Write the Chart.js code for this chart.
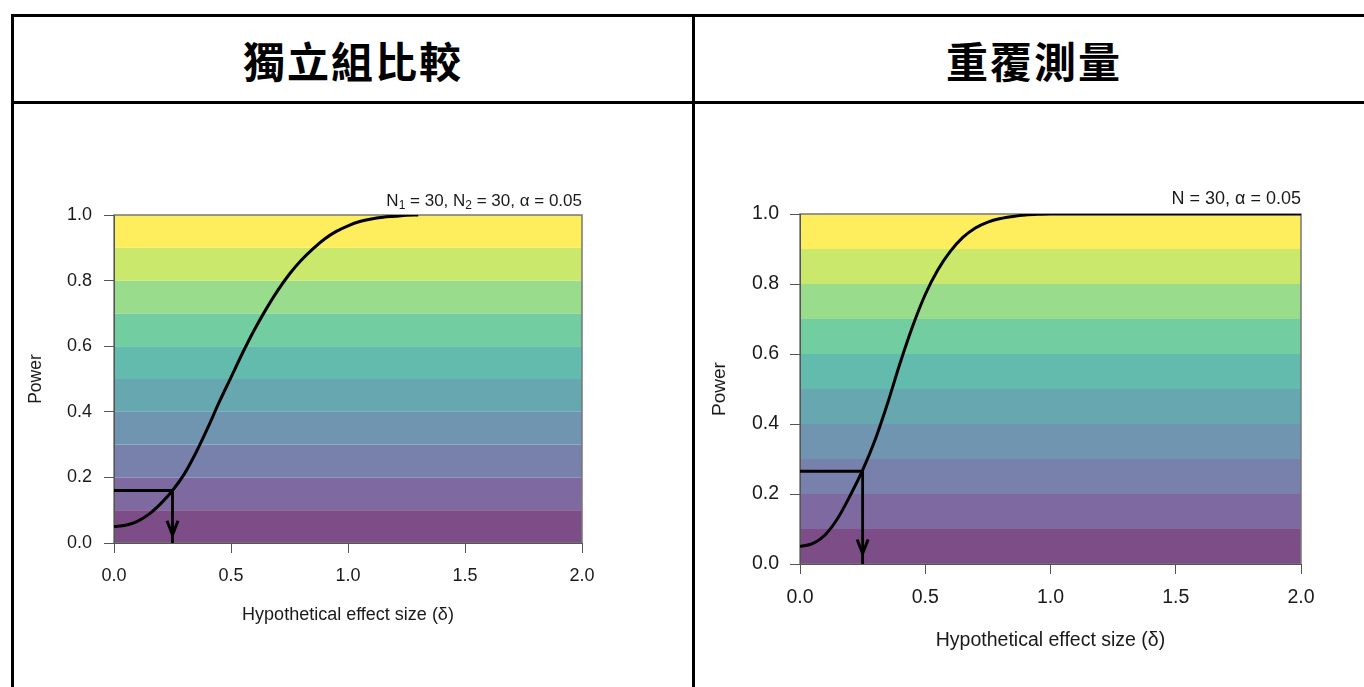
<!DOCTYPE html>
<html>
<head>
<meta charset="utf-8">
<script src="https://cdn.jsdelivr.net/npm/chart.js@4.4.1/dist/chart.umd.min.js"></script>
<style>
body{margin:0;width:1364px;height:687px;overflow:hidden;background:#fff;position:relative;}
.line{position:absolute;background:#000;}
.head{position:absolute;top:17px;height:84px;width:678px;display:flex;align-items:center;justify-content:center;
  font-family:"Noto Sans CJK TC",sans-serif;font-weight:bold;font-size:42px;letter-spacing:2px;color:#000;}
canvas{position:absolute;top:104px;}
</style>
</head>
<body>
<!-- table rules -->
<div class="line" style="left:11px;top:14px;width:1360px;height:3px"></div>
<div class="line" style="left:11px;top:101px;width:1360px;height:3px"></div>
<div class="line" style="left:11px;top:14px;width:3px;height:700px"></div>
<div class="line" style="left:692px;top:14px;width:3px;height:700px"></div>
<div class="head" style="left:14px">獨立組比較</div>
<div class="head" style="left:695px">重覆測量</div>

<canvas id="indep" width="678" height="583" style="left:14px"></canvas>
<canvas id="paired" width="669" height="583" style="left:695px"></canvas>

<script>
// effect sizes and power
var delta1 = [0, 0.05, 0.1, 0.15, 0.2, 0.25, 0.3, 0.35, 0.4, 0.45, 0.5, 0.55, 0.6, 0.65,
              0.7, 0.75, 0.8, 0.85, 0.9, 0.95, 1.0, 1.05, 1.1, 1.15, 1.2, 1.25, 1.3];
var power1 = [0.05, 0.054, 0.066, 0.088, 0.12, 0.16, 0.21, 0.275, 0.35, 0.43, 0.505, 0.58, 0.65, 0.713,
              0.77, 0.82, 0.862, 0.897, 0.927, 0.95, 0.967, 0.98, 0.988, 0.993, 0.996, 0.999, 1.0];

var delta2 = [0, 0.05, 0.1, 0.15, 0.2, 0.25, 0.3, 0.35, 0.4, 0.45, 0.5, 0.55, 0.6, 0.65,
              0.7, 0.75, 0.8, 0.85, 0.9, 0.95, 1.0, 1.25, 1.5, 1.75, 2.0];
var power2 = [0.05, 0.058, 0.083, 0.13, 0.195, 0.268, 0.355, 0.46, 0.575, 0.68, 0.77, 0.84, 0.893, 0.933,
              0.96, 0.977, 0.987, 0.993, 0.997, 0.999, 1.0, 1.0, 1.0, 1.0, 1.0];

// the delta = 0.25 read-off lines: [independent, paired]
var targetDelta = [0.25, 0.25];
var targetPower = [0.16, 0.265];
var arrowTip = [0.025, 0.03];

var xTicks = [0, 0.5, 1.0, 1.5, 2.0];
var yTicks = [0, 0.2, 0.4, 0.6, 0.8, 1.0];

// background bands, bottom to top
var bandEdges = [0, 0.1, 0.2, 0.3, 0.4, 0.5, 0.6, 0.7, 0.8, 0.9, 1.0];
var bandColors = ["#7c4d87", "#7f69a1", "#7880ac", "#6f95b0", "#67a8b0",
                  "#62bbad", "#72cda1", "#99dc8b", "#cae86b", "#feee5e"];

var xTitle = "Hypothetical effect size (\u03b4)";
var yTitle = "Power";
// [text, isSubscript]
var note1 = [["N", 0], ["1", 1], [" = 30, N", 0], ["2", 1], [" = 30, \u03b1 = 0.05", 0]];
var note2 = [["N = 30, \u03b1 = 0.05", 0]];

Chart.defaults.font.family = '"Liberation Sans", Arial, sans-serif';
Chart.defaults.color = "#1a1a1a";

var decor = {
    id: "decor",
    beforeDraw: function(chart, args, opts){
        var ctx = chart.ctx, a = chart.chartArea, y = chart.scales.y;
        ctx.save();
        for(var i = 0; i < bandColors.length; i++){
            var top = y.getPixelForValue(bandEdges[i + 1]);
            var bot = y.getPixelForValue(bandEdges[i]);
            ctx.fillStyle = bandColors[i];
            ctx.fillRect(a.left, top, a.right - a.left, bot - top);
        }
        ctx.strokeStyle = "#777";
        ctx.lineWidth = 1.5;
        ctx.strokeRect(a.left, a.top, a.right - a.left, a.bottom - a.top);
        ctx.restore();
    },
    afterDraw: function(chart, args, opts){
        var ctx = chart.ctx, a = chart.chartArea;
        var x = chart.scales.x, y = chart.scales.y;
        ctx.save();
        //arrowhead at the foot of the vertical line
        var px = x.getPixelForValue(opts.delta), py = y.getPixelForValue(opts.tip);
        ctx.strokeStyle = "#000";
        ctx.lineWidth = 3;
        ctx.lineJoin = "miter";
        ctx.beginPath();
        ctx.moveTo(px - 5.5, py - 14);
        ctx.lineTo(px, py);
        ctx.lineTo(px + 5.5, py - 14);
        ctx.stroke();

        //note above the plot, right aligned
        var big = opts.size + 'px "Liberation Sans", Arial, sans-serif';
        var small = Math.round(opts.size * 0.72) + 'px "Liberation Sans", Arial, sans-serif';
        var total = 0;
        opts.note.forEach(function(p){
            ctx.font = p[1] ? small : big;
            total += ctx.measureText(p[0]).width;
        });
        var cx = a.right - total;
        ctx.fillStyle = "#1a1a1a";
        ctx.textBaseline = "middle";
        opts.note.forEach(function(p){
            ctx.font = p[1] ? small : big;
            ctx.fillText(p[0], cx, a.top - opts.lift + (p[1] ? opts.size * 0.3 : 0));
            cx += ctx.measureText(p[0]).width;
        });
        ctx.restore();
    }
};

function makeChart(id, k, deltas, powers, note, s){
    var curve = deltas.map(function(d, i){ return {x: d, y: powers[i]}; });
    var guide = [
        {x: 0, y: targetPower[k]},
        {x: targetDelta[k], y: targetPower[k]},
        {x: targetDelta[k], y: 0}
    ];
    return new Chart(document.getElementById(id), {
        type: "line",
        data: {
            datasets: [
                {data: curve, borderColor: "#000", borderWidth: 3, pointRadius: 0,
                 cubicInterpolationMode: "monotone", fill: false},
                {data: guide, borderColor: "#000", borderWidth: 2.8, pointRadius: 0,
                 tension: 0, fill: false}
            ]
        },
        options: {
            responsive: false,
            animation: false,
            events: [],
            layout: {padding: {left: 0, right: s.padR, top: s.padT, bottom: s.padB}},
            plugins: {
                legend: {display: false},
                tooltip: {enabled: false},
                decor: {delta: targetDelta[k], tip: arrowTip[k], note: note, size: s.noteFont, lift: s.lift}
            },
            scales: {
                x: {
                    type: "linear", min: 0, max: 2,
                    afterBuildTicks: function(sc){ sc.ticks = xTicks.map(function(v){ return {value: v}; }); },
                    afterFit: function(sc){ sc.height = s.xH; },
                    ticks: {font: {size: s.font}, padding: s.xPad, maxRotation: 0,
                            callback: function(v){ return v.toFixed(1); }},
                    grid: {drawOnChartArea: false, drawTicks: true, tickLength: s.tick, color: "#555"},
                    border: {display: true, color: "#555", width: 1},
                    title: {display: true, text: xTitle, font: {size: s.font}, padding: {top: 0, bottom: 0}}
                },
                y: {
                    type: "linear", min: 0, max: 1,
                    afterBuildTicks: function(sc){ sc.ticks = yTicks.map(function(v){ return {value: v}; }); },
                    afterFit: function(sc){ sc.width = s.yW; },
                    ticks: {font: {size: s.font}, padding: s.yPad,
                            callback: function(v){ return v.toFixed(1); }},
                    grid: {drawOnChartArea: false, drawTicks: true, tickLength: s.tick, color: "#555"},
                    border: {display: true, color: "#555", width: 1},
                    title: {display: true, text: yTitle, font: {size: s.font - 0.5}, padding: {top: s.yTitlePad, bottom: 0}}
                }
            }
        },
        plugins: [decor]
    });
}

makeChart("indep", 0, delta1, power1, note1,
    {font: 18, noteFont: 17, padR: 110, padT: 111, padB: 61, xH: 83, xPad: 12, yW: 100, yPad: 12, tick: 10, yTitlePad: 12, lift: 14});
makeChart("paired", 1, delta2, power2, note2,
    {font: 19.5, noteFont: 18, padR: 63, padT: 110, padB: 35, xH: 88, xPad: 12, yW: 105, yPad: 11, tick: 10, yTitlePad: 13, lift: 15});
</script>
</body>
</html>
